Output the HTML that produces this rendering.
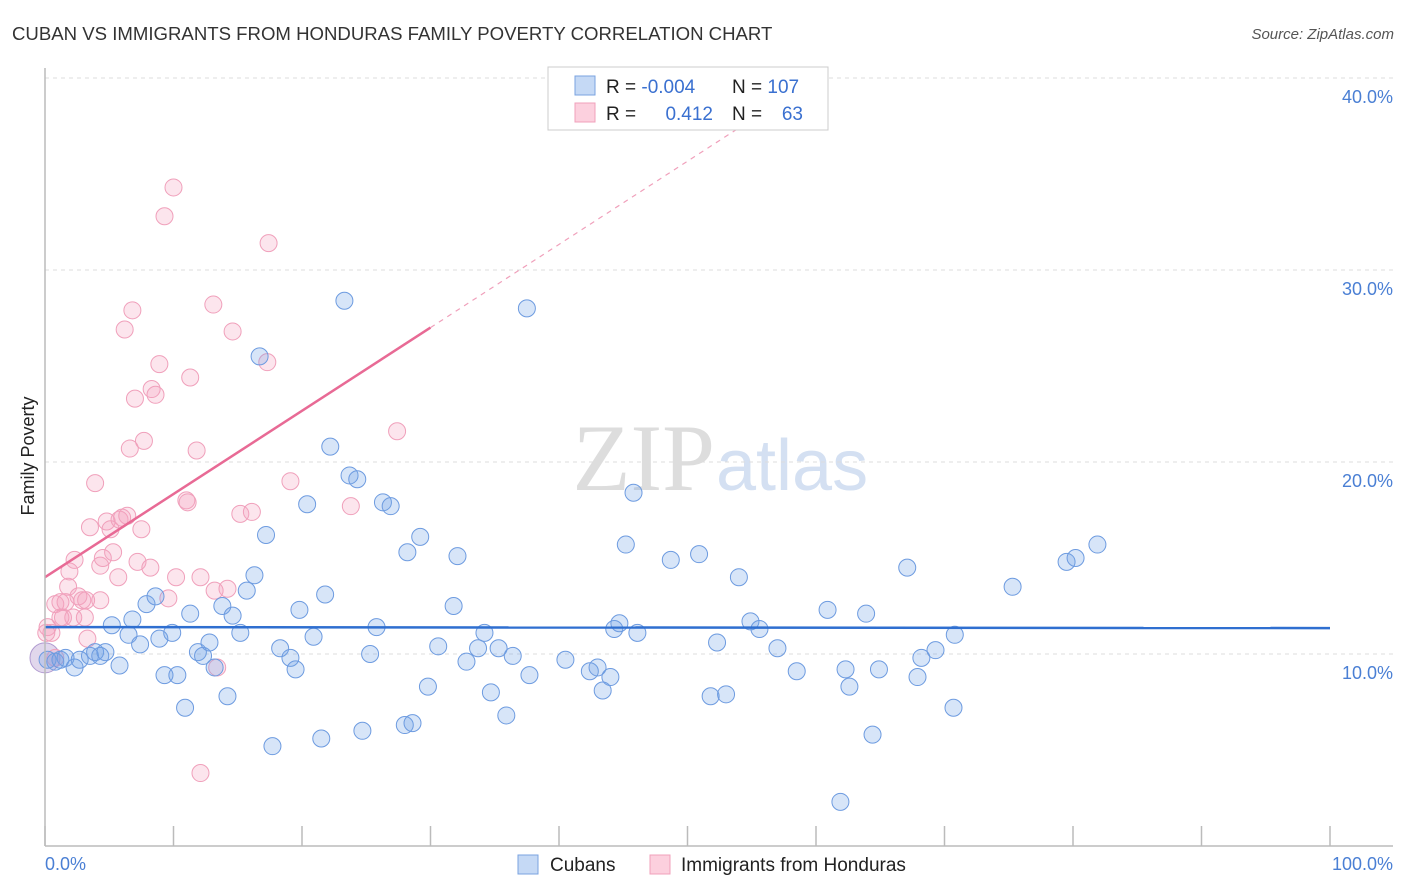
<!DOCTYPE html>
<html><head><meta charset="utf-8"><style>
body{margin:0;background:#fff;font-family:"Liberation Sans",sans-serif;}
#wrap{position:relative;width:1406px;height:892px;overflow:hidden;}
</style></head><body>
<div id="wrap">
<svg id="svg" width="1406" height="892" xmlns="http://www.w3.org/2000/svg">
<text x="12" y="40" font-size="18.6" fill="#333">CUBAN VS IMMIGRANTS FROM HONDURAS FAMILY POVERTY CORRELATION CHART</text>
<text x="1394" y="39" font-size="15" fill="#555" text-anchor="end" font-style="italic">Source: ZipAtlas.com</text>
<text x="715" y="490" font-size="95" fill="#ddd" text-anchor="end" font-family="Liberation Serif">ZIP</text>
<text x="716" y="490" font-size="72" fill="#d4e0f2">atlas</text>
<text transform="translate(34,456) rotate(-90)" font-size="18" fill="#222" text-anchor="middle">Family Poverty</text>
<g id="grid"></g><g id="pts"></g><g id="lines"></g>
<line x1="45" y1="68" x2="45" y2="846" stroke="#bbb" stroke-width="1.5"/>
<line x1="45" y1="846" x2="1393" y2="846" stroke="#bbb" stroke-width="1.5"/>
<text x="45" y="870" font-size="18" fill="#4a7fd4">0.0%</text>
<text x="1393" y="870" font-size="18" fill="#4a7fd4" text-anchor="end">100.0%</text>
<g>
<rect x="548" y="67" width="280" height="63" fill="#fff" stroke="#ccc"/>
<rect x="575" y="76" width="20" height="19" fill="#c5d9f5" stroke="#7aa3e0"/>
<rect x="575" y="103" width="20" height="19" fill="#fcd0de" stroke="#f0a0bb"/>
<text x="606" y="93" font-size="19" fill="#222">R = <tspan fill="#3a70d0">-0.004</tspan></text>
<text x="732" y="93" font-size="19" fill="#222">N = <tspan fill="#3a70d0">107</tspan></text>
<text x="606" y="120" font-size="19" fill="#222">R = </text><text x="713" y="120" font-size="19" fill="#3a70d0" text-anchor="end">0.412</text>
<text x="732" y="120" font-size="19" fill="#222">N = </text><text x="803" y="120" font-size="19" fill="#3a70d0" text-anchor="end">63</text>
</g>
<g>
<rect x="518" y="855" width="20" height="19" fill="#c5d9f5" stroke="#7aa3e0"/>
<text x="550" y="871" font-size="19" fill="#222">Cubans</text>
<rect x="650" y="855" width="20" height="19" fill="#fcd0de" stroke="#f0a0bb"/>
<text x="681" y="871" font-size="19" fill="#222">Immigrants from Honduras</text>
</g>
</svg>
</div>
<script>
const yTicks=[10,20,30,40];
const xTicks=[0,10,20,30,40,50,60,70,80,90,100];
const blueX=[0.2,0.8,1.2,1.6,2.3,2.7,3.5,3.9,4.3,4.7,5.2,5.8,6.5,6.8,7.4,7.9,8.6,8.9,9.3,9.9,10.3,10.9,11.3,11.9,12.3,12.8,13.2,13.8,14.2,14.6,15.2,15.7,16.3,16.7,17.2,17.7,18.3,19.1,19.5,19.8,20.4,20.9,21.5,21.8,22.2,23.3,23.7,24.3,24.7,25.3,25.8,26.3,26.9,28.0,28.2,28.6,29.2,29.8,30.6,31.8,32.1,32.8,33.7,34.2,34.7,35.3,35.9,36.4,37.5,37.7,40.5,42.4,43.0,43.4,44.0,44.3,44.7,45.2,45.8,46.1,48.7,50.9,51.8,52.3,53.0,54.0,54.9,55.6,57.0,58.5,60.9,61.9,62.3,62.6,63.9,64.4,64.9,67.1,67.9,68.2,69.3,70.7,70.8,75.3,79.5,80.2,81.9];
const blueY=[9.7,9.6,9.7,9.8,9.3,9.7,9.9,10.1,9.9,10.1,11.5,9.4,11.0,11.8,10.5,12.6,13.0,10.8,8.9,11.1,8.9,7.2,12.1,10.1,9.9,10.6,9.3,12.5,7.8,12.0,11.1,13.3,14.1,25.5,16.2,5.2,10.3,9.8,9.2,12.3,17.8,10.9,5.6,13.1,20.8,28.4,19.3,19.1,6.0,10.0,11.4,17.9,17.7,6.3,15.3,6.4,16.1,8.3,10.4,12.5,15.1,9.6,10.3,11.1,8.0,10.3,6.8,9.9,28.0,8.9,9.7,9.1,9.3,8.1,8.8,11.3,11.6,15.7,18.4,11.1,14.9,15.2,7.8,10.6,7.9,14.0,11.7,11.3,10.3,9.1,12.3,2.3,9.2,8.3,12.1,5.8,9.2,14.5,8.8,9.8,10.2,7.2,11.0,13.5,14.8,15.0,15.7];
const pinkX=[0.2,0.5,0.8,1.2,1.4,1.8,1.9,2.2,2.3,2.6,2.9,3.1,3.3,3.5,3.9,4.3,4.5,4.8,5.1,5.3,5.7,5.8,6.0,6.2,6.4,6.6,6.8,7.0,7.2,7.5,7.7,8.2,8.3,8.6,8.9,9.3,9.6,10.0,10.2,11.0,11.1,11.3,11.8,12.1,12.1,13.1,13.2,13.4,14.2,14.6,15.2,16.1,17.4,17.3,19.1,23.8,27.4,1.2,1.6,3.2,4.3,0.1,0.8];
const pinkY=[11.4,11.1,12.6,12.7,11.9,13.5,14.3,11.9,14.9,13.0,12.8,11.9,10.8,16.6,18.9,14.6,15.0,16.9,16.5,15.3,14.0,17.0,17.1,26.9,17.2,20.7,27.9,23.3,14.8,16.5,21.1,14.5,23.8,23.5,25.1,32.8,12.9,34.3,14.0,18.0,17.9,24.4,20.6,3.8,14.0,28.2,13.3,9.3,13.4,26.8,17.3,17.4,31.4,25.2,19.0,17.7,21.6,11.9,12.7,12.8,12.8,11.1,9.8];
const blueFit=[11.4,11.35]; // y at x=0, x=100
const pinkFit=[14.0,27.0,30]; // y at x=0, y at x=30, end x of solid
const NS="http://www.w3.org/2000/svg";
const X=v=>45+v*12.85, Y=v=>846-v*19.2;
function mk(t,a,p){const e=document.createElementNS(NS,t);for(const k in a)e.setAttribute(k,a[k]);p.appendChild(e);return e;}
const grid=document.getElementById('grid'),pts=document.getElementById('pts'),lines=document.getElementById('lines'),svg=document.getElementById('svg');
yTicks.forEach(t=>{
const l=mk('line',{x1:45,x2:1393,y1:Y(t),y2:Y(t),stroke:'#ddd','stroke-dasharray':'4,4'},grid);


const tx=mk('text',{x:1393,y:Y(t)+25,'font-size':18,fill:'#4a7fd4','text-anchor':'end'},svg);
tx.textContent=t.toFixed(1)+'%';


});
xTicks.forEach(t=>{
const l=mk('line',{x1:X(t),x2:X(t),y1:826,y2:846,stroke:'#bbb','stroke-width':1.5},grid);


});
function dot(x,y,r,f,s,name){const c=mk('circle',{cx:X(x),cy:Y(y),r:r,fill:f,stroke:s,'stroke-width':1},pts);

}
dot(0,9.8,15,'rgba(170,140,200,0.35)','#b09ad0','overlap-point');
pinkX.forEach((x,i)=>dot(x,pinkY[i],8.5,'rgba(245,160,190,0.28)','#f0a0bb','honduras-point'));
blueX.forEach((x,i)=>dot(x,blueY[i],8.5,'rgba(110,160,230,0.28)','#6d9be0','cuban-point'));
const bl=mk('line',{x1:X(0),y1:Y(blueFit[0]),x2:X(100),y2:Y(blueFit[1]),stroke:'#2f6fd0','stroke-width':2.5},lines);


const slope=(pinkFit[1]-pinkFit[0])/pinkFit[2];
const pl=mk('line',{x1:X(0),y1:Y(pinkFit[0]),x2:X(pinkFit[2]),y2:Y(pinkFit[1]),stroke:'#e86a95','stroke-width':2.5},lines);


const yEnd=37.4;
const xe=(yEnd-pinkFit[0])/slope;
const pd=mk('line',{x1:X(pinkFit[2]),y1:Y(pinkFit[1]),x2:X(xe),y2:Y(yEnd),stroke:'#f0a0bb','stroke-width':1.2,'stroke-dasharray':'5,5'},lines);


</script>
</body></html>
